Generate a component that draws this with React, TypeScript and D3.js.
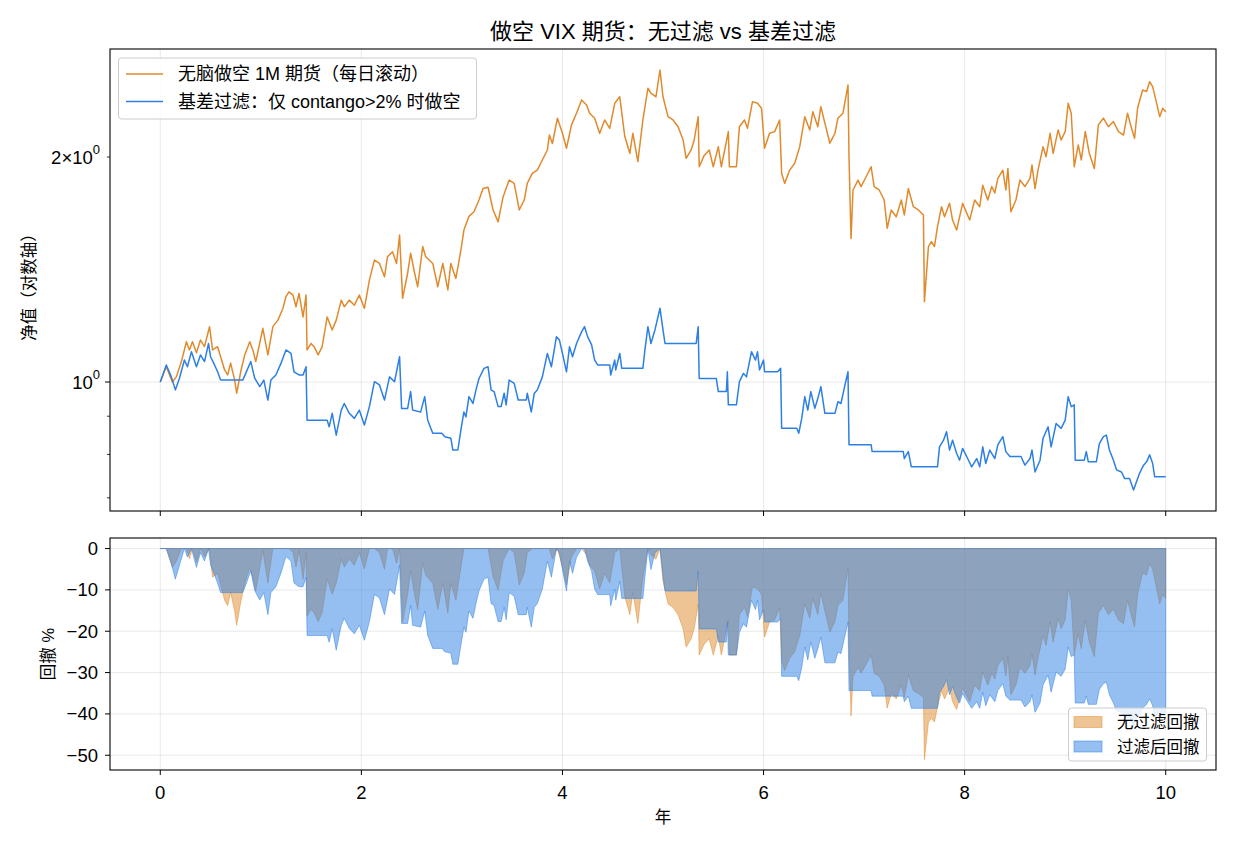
import React from 'react';
import * as d3 from 'd3';

type Pt = [number, number];

// 无脑做空 1M 期货（每日滚动）净值：[年, 净值]
const blindShortNav: Pt[] = [
  [0.00, 1.000], [0.06, 1.048], [0.12, 1.000], [0.16, 1.016], [0.21, 1.065], [0.26, 1.132], [0.29, 1.104],
  [0.32, 1.132], [0.36, 1.094], [0.40, 1.138], [0.44, 1.115], [0.49, 1.186], [0.52, 1.104], [0.57, 1.115],
  [0.64, 1.038], [0.67, 1.022], [0.70, 1.060], [0.74, 1.006], [0.76, 0.966], [0.80, 1.032], [0.84, 1.087],
  [0.89, 1.132], [0.92, 1.104], [0.95, 1.065], [1.02, 1.180], [1.07, 1.087], [1.12, 1.186], [1.17, 1.210],
  [1.22, 1.255], [1.25, 1.301], [1.28, 1.320], [1.32, 1.307], [1.35, 1.261], [1.38, 1.314], [1.42, 1.222],
  [1.45, 1.307], [1.46, 1.104], [1.50, 1.126], [1.53, 1.115], [1.57, 1.087], [1.61, 1.115], [1.66, 1.222],
  [1.71, 1.174], [1.75, 1.210], [1.80, 1.287], [1.83, 1.261], [1.88, 1.287], [1.93, 1.267], [1.98, 1.307],
  [2.03, 1.255], [2.08, 1.369], [2.13, 1.456], [2.18, 1.441], [2.23, 1.383], [2.26, 1.471], [2.31, 1.494],
  [2.35, 1.441], [2.38, 1.573], [2.41, 1.294], [2.46, 1.398], [2.49, 1.487], [2.53, 1.398], [2.56, 1.341],
  [2.61, 1.518], [2.64, 1.471], [2.71, 1.441], [2.76, 1.341], [2.81, 1.441], [2.86, 1.328], [2.89, 1.441],
  [2.94, 1.376], [2.99, 1.502], [3.02, 1.597], [3.07, 1.666], [3.12, 1.690], [3.17, 1.752], [3.21, 1.815],
  [3.26, 1.822], [3.31, 1.699], [3.36, 1.638], [3.41, 1.770], [3.47, 1.863], [3.52, 1.844], [3.57, 1.699],
  [3.62, 1.752], [3.65, 1.844], [3.70, 1.902], [3.75, 1.921], [3.80, 1.982], [3.85, 2.044], [3.87, 2.140],
  [3.90, 2.085], [3.95, 2.254], [4.00, 2.152], [4.04, 2.055], [4.09, 2.208], [4.14, 2.289], [4.19, 2.384],
  [4.24, 2.348], [4.27, 2.289], [4.32, 2.254], [4.37, 2.152], [4.42, 2.242], [4.47, 2.185], [4.52, 2.360],
  [4.57, 2.408], [4.62, 2.130], [4.67, 2.023], [4.70, 2.152], [4.75, 1.972], [4.80, 2.242], [4.85, 2.472],
  [4.88, 2.435], [4.93, 2.408], [4.97, 2.615], [5.00, 2.408], [5.05, 2.265], [5.10, 2.242], [5.15, 2.196],
  [5.20, 2.108], [5.23, 1.992], [5.28, 2.044], [5.31, 2.108], [5.35, 2.265], [5.36, 1.941], [5.41, 2.010],
  [5.46, 2.044], [5.50, 1.941], [5.55, 2.065], [5.58, 1.941], [5.65, 2.163], [5.66, 1.941], [5.73, 1.941],
  [5.76, 2.196], [5.81, 2.242], [5.84, 2.185], [5.89, 2.372], [5.94, 2.360], [5.98, 2.324], [6.01, 2.055],
  [6.06, 2.152], [6.11, 2.163], [6.16, 2.242], [6.18, 1.902], [6.21, 1.844], [6.26, 1.921], [6.31, 1.962],
  [6.36, 2.065], [6.41, 2.265], [6.46, 2.174], [6.49, 2.300], [6.54, 2.196], [6.57, 2.336], [6.61, 2.220],
  [6.66, 2.087], [6.71, 2.152], [6.74, 2.254], [6.79, 2.289], [6.84, 2.497], [6.85, 2.002], [6.87, 1.556],
  [6.89, 1.807], [6.94, 1.863], [6.97, 1.826], [7.02, 1.882], [7.07, 1.941], [7.10, 1.826], [7.15, 1.807],
  [7.20, 1.752], [7.23, 1.606], [7.27, 1.699], [7.32, 1.664], [7.37, 1.752], [7.40, 1.673], [7.44, 1.815],
  [7.49, 1.716], [7.54, 1.699], [7.59, 1.673], [7.60, 1.281], [7.64, 1.518], [7.67, 1.541], [7.70, 1.518],
  [7.73, 1.614], [7.77, 1.716], [7.80, 1.664], [7.85, 1.734], [7.88, 1.647], [7.92, 1.597], [7.98, 1.734],
  [8.05, 1.647], [8.10, 1.752], [8.15, 1.716], [8.18, 1.834], [8.23, 1.752], [8.27, 1.826], [8.30, 1.790],
  [8.33, 1.873], [8.38, 1.921], [8.41, 1.807], [8.43, 1.931], [8.46, 1.690], [8.51, 1.752], [8.55, 1.863],
  [8.60, 1.826], [8.65, 1.873], [8.67, 1.951], [8.70, 1.815], [8.73, 1.921], [8.78, 2.065], [8.81, 2.002],
  [8.85, 2.152], [8.88, 2.023], [8.93, 2.174], [8.96, 2.108], [9.00, 2.163], [9.03, 2.360], [9.06, 2.289],
  [9.09, 1.941], [9.13, 2.076], [9.16, 1.982], [9.20, 2.163], [9.24, 2.023], [9.29, 1.931], [9.33, 2.208],
  [9.38, 2.254], [9.43, 2.196], [9.48, 2.231], [9.53, 2.163], [9.58, 2.140], [9.62, 2.289], [9.66, 2.185],
  [9.69, 2.119], [9.72, 2.324], [9.77, 2.459], [9.81, 2.447], [9.84, 2.522], [9.87, 2.484], [9.91, 2.360],
  [9.94, 2.265], [9.97, 2.324], [10.00, 2.300],
];

// 基差过滤（仅 contango>2% 时做空）净值：[年, 净值]
const basisFilterNav: Pt[] = [
  [0.00, 1.000], [0.06, 1.054], [0.11, 1.016], [0.15, 0.976], [0.19, 1.011], [0.24, 1.070], [0.27, 1.048],
  [0.31, 1.098], [0.36, 1.048], [0.40, 1.087], [0.44, 1.065], [0.48, 1.126], [0.50, 1.081], [0.54, 1.054],
  [0.57, 1.032], [0.60, 1.006], [0.82, 1.006], [0.85, 1.027], [0.90, 1.065], [0.94, 1.011], [0.99, 0.986],
  [1.03, 1.006], [1.07, 0.946], [1.10, 1.006], [1.15, 1.022], [1.20, 1.059], [1.25, 1.104], [1.30, 1.092],
  [1.33, 1.032], [1.38, 1.022], [1.42, 1.022], [1.45, 1.048], [1.46, 0.889], [1.66, 0.889], [1.68, 0.871],
  [1.71, 0.908], [1.75, 0.849], [1.80, 0.917], [1.83, 0.936], [1.88, 0.908], [1.93, 0.894], [1.98, 0.917],
  [2.03, 0.876], [2.08, 0.927], [2.13, 1.001], [2.18, 0.991], [2.23, 0.946], [2.28, 1.016], [2.33, 1.001],
  [2.38, 1.081], [2.40, 0.922], [2.46, 0.922], [2.49, 0.971], [2.51, 0.917], [2.59, 0.912], [2.63, 0.956],
  [2.66, 0.889], [2.71, 0.854], [2.80, 0.854], [2.83, 0.845], [2.89, 0.841], [2.91, 0.811], [2.96, 0.811],
  [2.99, 0.863], [3.02, 0.912], [3.04, 0.898], [3.07, 0.956], [3.11, 0.936], [3.14, 0.976], [3.17, 1.011],
  [3.22, 1.043], [3.26, 1.048], [3.29, 0.976], [3.32, 0.971], [3.36, 0.927], [3.39, 0.927], [3.42, 0.966],
  [3.44, 0.932], [3.47, 1.006], [3.52, 0.996], [3.56, 0.946], [3.64, 0.946], [3.65, 0.966], [3.69, 0.912],
  [3.72, 0.966], [3.75, 0.976], [3.80, 1.016], [3.85, 1.092], [3.89, 1.048], [3.94, 1.150], [3.97, 1.138],
  [4.00, 1.092], [4.04, 1.032], [4.07, 1.115], [4.10, 1.081], [4.14, 1.126], [4.19, 1.167], [4.22, 1.186],
  [4.25, 1.150], [4.29, 1.121], [4.32, 1.070], [4.35, 1.054], [4.47, 1.054], [4.48, 1.022], [4.52, 1.070],
  [4.53, 1.038], [4.57, 1.092], [4.59, 1.043], [4.80, 1.043], [4.82, 1.104], [4.85, 1.186], [4.88, 1.126],
  [4.92, 1.174], [4.97, 1.255], [5.00, 1.174], [5.02, 1.126], [5.33, 1.126], [5.35, 1.186], [5.36, 1.011],
  [5.53, 1.011], [5.55, 0.971], [5.63, 0.971], [5.64, 1.032], [5.65, 0.932], [5.73, 0.932], [5.76, 1.001],
  [5.80, 1.027], [5.83, 1.016], [5.88, 1.098], [5.92, 1.070], [5.94, 1.098], [5.96, 1.038], [6.00, 1.070],
  [6.01, 1.032], [6.14, 1.032], [6.17, 1.043], [6.18, 0.867], [6.33, 0.867], [6.35, 0.854], [6.38, 0.894],
  [6.41, 0.956], [6.44, 0.917], [6.47, 0.971], [6.51, 0.922], [6.54, 0.951], [6.57, 0.986], [6.61, 0.908],
  [6.71, 0.908], [6.74, 0.941], [6.77, 0.936], [6.81, 0.991], [6.84, 1.032], [6.85, 0.824], [7.07, 0.824],
  [7.08, 0.807], [7.39, 0.807], [7.40, 0.790], [7.44, 0.807], [7.47, 0.770], [7.73, 0.770], [7.75, 0.819],
  [7.79, 0.836], [7.82, 0.858], [7.85, 0.811], [7.88, 0.836], [7.92, 0.803], [7.95, 0.786], [7.98, 0.815],
  [8.03, 0.790], [8.07, 0.770], [8.12, 0.790], [8.15, 0.770], [8.18, 0.819], [8.21, 0.778], [8.25, 0.811],
  [8.30, 0.790], [8.33, 0.824], [8.38, 0.845], [8.41, 0.807], [8.45, 0.795], [8.56, 0.795], [8.60, 0.774],
  [8.65, 0.790], [8.67, 0.811], [8.70, 0.758], [8.75, 0.786], [8.78, 0.841], [8.83, 0.871], [8.86, 0.819],
  [8.91, 0.880], [8.96, 0.867], [9.00, 0.889], [9.03, 0.956], [9.06, 0.927], [9.09, 0.932], [9.10, 0.786],
  [9.19, 0.786], [9.21, 0.807], [9.23, 0.782], [9.31, 0.782], [9.34, 0.827], [9.38, 0.845], [9.41, 0.849],
  [9.44, 0.811], [9.48, 0.786], [9.51, 0.763], [9.56, 0.758], [9.59, 0.743], [9.64, 0.743], [9.68, 0.717],
  [9.71, 0.736], [9.74, 0.755], [9.78, 0.774], [9.81, 0.782], [9.84, 0.799], [9.87, 0.778], [9.89, 0.747],
  [10.00, 0.747],
];

const yearTicks = [0, 2, 4, 6, 8, 10];
const drawdownTicks = [0, -10, -20, -30, -40, -50];
const navMinorTicks = [0.7, 0.8, 0.9];

const ORANGE = '#e08a2c';
const BLUE = '#2c7fe3';
const FONT = '"Liberation Sans", "Noto Sans CJK SC", sans-serif';

// 回撤（%）= 净值 / 历史最高 - 1
function toDrawdown(series: Pt[]): Pt[] {
  let peak = -Infinity;
  return series.map(([t, v]) => {
    peak = Math.max(peak, v);
    return [t, (v / peak - 1) * 100] as Pt;
  });
}

const W = 1235;
const H = 845;
const left = 110;
const right = 1216;
const top1 = 49, bottom1 = 511;
const top2 = 538, bottom2 = 770;

const TICK_FS = 18.5;
const LABEL_FS = 16.5;
const LEGEND_FS = 18;

export default function App() {
  const x = d3.scaleLinear().domain([-0.5, 10.5]).range([left, right]);

  // 对数轴，两端各留 5% 余量
  const allNav = [...blindShortNav, ...basisFilterNav].map(d => d[1]);
  const lo = Math.log10(d3.min(allNav)!);
  const hi = Math.log10(d3.max(allNav)!);
  const pad = (hi - lo) * 0.05;
  const y1 = d3.scaleLog().domain([10 ** (lo - pad), 10 ** (hi + pad)]).range([bottom1, top1]);

  const ddBlind = toDrawdown(blindShortNav);
  const ddBasis = toDrawdown(basisFilterNav);
  const ddMin = d3.min([...ddBlind, ...ddBasis], d => d[1])!;
  const ddPad = Math.abs(ddMin) * 0.05;
  const y2 = d3.scaleLinear().domain([ddMin - ddPad, ddPad]).range([bottom2, top2]);

  const navLine = d3.line<Pt>().x(d => x(d[0])).y(d => y1(d[1]));
  const ddArea = d3.area<Pt>().x(d => x(d[0])).y0(y2(0)).y1(d => y2(d[1]));

  const gridColor = '#b0b0b0';

  return (
    <svg width={W} height={H} style={{ position: 'absolute', left: 0, top: 0, background: '#fff' }} fontFamily={FONT}>
      <defs>
        <clipPath id="clip1"><rect x={left} y={top1} width={right - left} height={bottom1 - top1} /></clipPath>
        <clipPath id="clip2"><rect x={left} y={top2} width={right - left} height={bottom2 - top2} /></clipPath>
      </defs>

      <text x={(left + right) / 2} y={31} textAnchor="middle" dominantBaseline="central" fontSize={22} fill="#000">
        做空 VIX 期货：无过滤 vs 基差过滤
      </text>

      {/* 上图：净值 */}
      <g>
        {yearTicks.map(t => (
          <line key={t} x1={x(t)} x2={x(t)} y1={top1} y2={bottom1} stroke={gridColor} strokeOpacity={0.35} strokeWidth={0.8} />
        ))}
        <line x1={left} x2={right} y1={y1(1)} y2={y1(1)} stroke={gridColor} strokeOpacity={0.35} strokeWidth={0.8} />
        <g clipPath="url(#clip1)">
          <path d={navLine(blindShortNav)!} fill="none" stroke={ORANGE} strokeWidth={1.5} strokeLinejoin="round" />
          <path d={navLine(basisFilterNav)!} fill="none" stroke={BLUE} strokeWidth={1.5} strokeLinejoin="round" />
        </g>
        <rect x={left} y={top1} width={right - left} height={bottom1 - top1} fill="none" stroke="#000" strokeWidth={1.1} />
        {yearTicks.map(t => (
          <line key={t} x1={x(t)} x2={x(t)} y1={bottom1} y2={bottom1 + 5} stroke="#000" strokeWidth={1} />
        ))}
        <line x1={left - 5} x2={left} y1={y1(1)} y2={y1(1)} stroke="#000" strokeWidth={1} />
        {[...navMinorTicks, 2].map(v => (
          <line key={v} x1={left - 3} x2={left} y1={y1(v)} y2={y1(v)} stroke="#000" strokeWidth={0.8} />
        ))}
        <text x={left - 10} y={y1(1)} textAnchor="end" dominantBaseline="central" fontSize={TICK_FS}>
          10<tspan dy={-8} fontSize={13}>0</tspan>
        </text>
        <text x={left - 10} y={y1(2)} textAnchor="end" dominantBaseline="central" fontSize={TICK_FS}>
          2×10<tspan dy={-8} fontSize={13}>0</tspan>
        </text>
        <text transform={`translate(29,${(top1 + bottom1) / 2 + 3}) rotate(-90)`} textAnchor="middle" dominantBaseline="central" fontSize={LABEL_FS}>
          净值（对数轴）
        </text>

        <g>
          <rect x={118.5} y={58} width={358} height={61} rx={3} fill="#fff" fillOpacity={0.8} stroke="#cccccc" strokeWidth={1} />
          <line x1={126} x2={163} y1={74} y2={74} stroke={ORANGE} strokeWidth={1.5} />
          <text x={178} y={74} dominantBaseline="central" fontSize={LEGEND_FS}>无脑做空 1M 期货（每日滚动）</text>
          <line x1={126} x2={163} y1={101.5} y2={101.5} stroke={BLUE} strokeWidth={1.5} />
          <text x={178} y={101.5} dominantBaseline="central" fontSize={LEGEND_FS}>基差过滤：仅 contango&gt;2% 时做空</text>
        </g>
      </g>

      {/* 下图：回撤 */}
      <g>
        {yearTicks.map(t => (
          <line key={t} x1={x(t)} x2={x(t)} y1={top2} y2={bottom2} stroke={gridColor} strokeOpacity={0.35} strokeWidth={0.8} />
        ))}
        {drawdownTicks.map(t => (
          <line key={t} x1={left} x2={right} y1={y2(t)} y2={y2(t)} stroke={gridColor} strokeOpacity={0.35} strokeWidth={0.8} />
        ))}
        <g clipPath="url(#clip2)">
          <path d={ddArea(ddBlind)!} fill={ORANGE} fillOpacity={0.5} stroke={ORANGE} strokeOpacity={0.5} strokeWidth={1} strokeLinejoin="round" />
          <path d={ddArea(ddBasis)!} fill={BLUE} fillOpacity={0.5} stroke={BLUE} strokeOpacity={0.5} strokeWidth={1} strokeLinejoin="round" />
        </g>
        <rect x={left} y={top2} width={right - left} height={bottom2 - top2} fill="none" stroke="#000" strokeWidth={1.1} />
        {yearTicks.map(t => (
          <g key={t}>
            <line x1={x(t)} x2={x(t)} y1={bottom2} y2={bottom2 + 5} stroke="#000" strokeWidth={1} />
            <text x={x(t)} y={792} textAnchor="middle" dominantBaseline="central" fontSize={TICK_FS}>{t}</text>
          </g>
        ))}
        {drawdownTicks.map(t => (
          <g key={t}>
            <line x1={left - 5} x2={left} y1={y2(t)} y2={y2(t)} stroke="#000" strokeWidth={1} />
            <text x={left - 12} y={y2(t)} textAnchor="end" dominantBaseline="central" fontSize={TICK_FS}>
              {t < 0 ? `−${Math.abs(t)}` : `${t}`}
            </text>
          </g>
        ))}
        <text x={(left + right) / 2} y={817} textAnchor="middle" dominantBaseline="central" fontSize={LABEL_FS}>年</text>
        <text transform={`translate(48,${(top2 + bottom2) / 2}) rotate(-90)`} textAnchor="middle" dominantBaseline="central" fontSize={LABEL_FS}>
          回撤 %
        </text>

        <g>
          <rect x={1068.5} y={708} width={138} height={53} rx={3} fill="#fff" fillOpacity={0.8} stroke="#cccccc" strokeWidth={1} />
          <rect x={1074} y={716.5} width={28} height={11} fill={ORANGE} fillOpacity={0.5} stroke={ORANGE} strokeOpacity={0.5} />
          <text x={1117} y={722} dominantBaseline="central" fontSize={16.5}>无过滤回撤</text>
          <rect x={1074} y={741} width={28} height={11} fill={BLUE} fillOpacity={0.5} stroke={BLUE} strokeOpacity={0.5} />
          <text x={1117} y={746.5} dominantBaseline="central" fontSize={16.5}>过滤后回撤</text>
        </g>
      </g>
    </svg>
  );
}
